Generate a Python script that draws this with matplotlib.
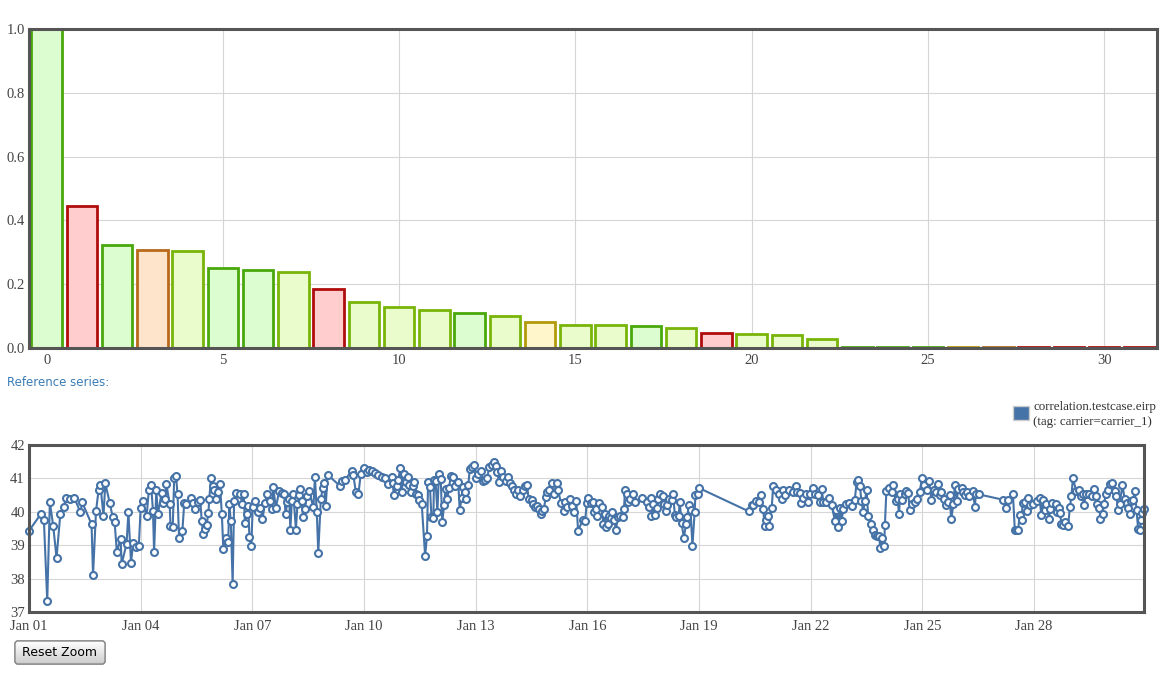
import matplotlib
matplotlib.use("Agg")
import matplotlib.pyplot as plt
import matplotlib.dates as mdates
from matplotlib.patches import FancyBboxPatch, Rectangle
from matplotlib.ticker import FormatStrFormatter
import numpy as np
from datetime import datetime, timedelta

# ---------------- data: autocorrelation bars ----------------
lags = list(range(32))
corr = [1.0, 0.444, 0.324, 0.308, 0.303, 0.252, 0.246, 0.239, 0.185, 0.144,
        0.130, 0.120, 0.110, 0.101, 0.083, 0.072, 0.071, 0.068, 0.063, 0.047,
        0.045, 0.042, 0.028, 0.003, 0.003, 0.003, 0.003, 0.003, 0.003, 0.003,
        0.003, 0.003]
levels = ['good', 'bad', 'good', 'poor', 'fair', 'good', 'good', 'fair', 'bad', 'fair',
          'fair', 'fair', 'good', 'fair', 'warn', 'fair', 'fair', 'good', 'fair', 'bad',
          'fair', 'fair', 'fair', 'good', 'good', 'good', 'warn', 'poor', 'bad', 'bad',
          'bad', 'bad']
bar_ticks = [0, 5, 10, 15, 20, 25, 30]
corr_ticks = [0.0, 0.2, 0.4, 0.6, 0.8, 1.0]

# ---------------- data: reference series (days after Jan 01, value) ----------------
seg_a = [(0.00, 39.43), (0.31, 39.92), (0.40, 39.75), (0.49, 37.33), (0.56, 40.29), (0.65, 39.58),
         (0.74, 38.62), (0.84, 39.92), (0.93, 40.14), (1.00, 40.42), (1.11, 40.37), (1.22, 40.42),
         (1.38, 39.98), (1.43, 40.28), (1.68, 39.63), (1.72, 38.10), (1.80, 40.02), (1.87, 40.66),
         (1.92, 40.80), (2.00, 39.86), (2.05, 40.85), (2.17, 40.26), (2.25, 39.83), (2.30, 39.68),
         (2.36, 38.80), (2.46, 39.20), (2.49, 38.44), (2.62, 39.04), (2.67, 39.98), (2.74, 38.48),
         (2.80, 39.08), (2.87, 38.94), (2.95, 38.99), (3.00, 40.12), (3.06, 40.32), (3.16, 39.87),
         (3.22, 40.66), (3.28, 40.81), (3.33, 40.02), (3.36, 38.80), (3.42, 40.66), (3.46, 39.92),
         (3.56, 40.55), (3.61, 40.27), (3.65, 40.37), (3.69, 40.83), (3.78, 40.22), (3.80, 39.58),
         (3.86, 39.53), (3.90, 41.01), (3.95, 41.06), (3.99, 40.52), (4.03, 39.23), (4.12, 39.43),
         (4.17, 40.27), (4.22, 40.22), (4.35, 40.42), (4.40, 40.27), (4.46, 40.07)]
seg_b = [(4.54, 40.29), (4.60, 40.34), (4.64, 39.73), (4.68, 39.33), (4.73, 39.48), (4.77, 39.60),
         (4.82, 39.97), (4.84, 40.37), (4.89, 41.00), (4.93, 40.78), (4.98, 40.64), (5.01, 40.37),
         (5.07, 40.59), (5.13, 40.83), (5.18, 39.92), (5.22, 38.89), (5.29, 39.23), (5.35, 39.10),
         (5.38, 40.22), (5.42, 39.73), (5.47, 37.85), (5.51, 40.32), (5.56, 40.56), (5.67, 40.52),
         (5.73, 40.24), (5.77, 40.52), (5.80, 39.67), (5.85, 39.92), (5.89, 40.17), (5.92, 39.25),
         (5.97, 38.99), (6.01, 40.14), (6.07, 40.32), (6.16, 39.99), (6.20, 40.12), (6.27, 39.77),
         (6.34, 40.27), (6.40, 40.54), (6.47, 40.32), (6.52, 40.07), (6.56, 40.74), (6.63, 40.12),
         (6.72, 40.62), (6.79, 40.57), (6.86, 40.52), (6.89, 39.92), (6.94, 40.29), (6.99, 40.37),
         (7.02, 39.47), (7.06, 40.32), (7.10, 40.52), (7.17, 39.47), (7.21, 40.22), (7.25, 40.49),
         (7.28, 40.69), (7.32, 40.32), (7.37, 39.83), (7.41, 40.07), (7.46, 40.46), (7.52, 40.62),
         (7.64, 40.14), (7.68, 41.05), (7.73, 39.99), (7.77, 38.78), (7.84, 40.39), (7.89, 40.72),
         (7.92, 40.86), (7.97, 40.16), (8.02, 41.11), (8.35, 40.78), (8.40, 40.91), (8.49, 40.96),
         (8.67, 41.23), (8.71, 41.11), (8.78, 40.59), (8.85, 40.54), (8.91, 41.13), (9.00, 41.31),
         (9.07, 41.18), (9.13, 41.25), (9.22, 41.21), (9.29, 41.16), (9.38, 41.11), (9.47, 41.03)]
seg_c = [(9.56, 41.00), (9.65, 40.83), (9.74, 41.03), (9.77, 40.85), (9.80, 40.49), (9.88, 40.78),
         (9.92, 40.95), (9.97, 41.31), (10.01, 40.59), (10.06, 41.13), (10.13, 40.88), (10.19, 41.03),
         (10.22, 40.81), (10.25, 40.59), (10.32, 40.78), (10.35, 40.88), (10.40, 40.54), (10.44, 40.49),
         (10.48, 40.34), (10.55, 40.22), (10.64, 38.68), (10.69, 39.27), (10.72, 40.88), (10.77, 40.75),
         (10.81, 39.83), (10.86, 39.80), (10.88, 40.95), (10.92, 40.93), (10.97, 39.99), (11.01, 41.13),
         (11.06, 40.98), (11.10, 39.70), (11.15, 40.19), (11.19, 40.69), (11.24, 40.39), (11.28, 40.72),
         (11.33, 41.06), (11.39, 41.05), (11.44, 40.78), (11.53, 40.88), (11.57, 40.04), (11.62, 40.42),
         (11.66, 40.74), (11.71, 40.59), (11.75, 40.39), (11.80, 40.81), (11.84, 41.28), (11.91, 41.35),
         (11.95, 41.40), (12.00, 41.00), (12.07, 41.13), (12.13, 41.23), (12.19, 40.93), (12.25, 40.95),
         (12.31, 41.01), (12.36, 41.35), (12.43, 41.41), (12.49, 41.48), (12.54, 41.38), (12.58, 41.18),
         (12.63, 40.88), (12.67, 41.23), (12.73, 41.03), (12.80, 40.93), (12.87, 41.03), (12.92, 40.86),
         (12.98, 40.78), (13.02, 40.64), (13.07, 40.54), (13.14, 40.66), (13.20, 40.47), (13.26, 40.66),
         (13.33, 40.78), (13.38, 40.81), (13.42, 40.37), (13.50, 40.34), (13.54, 40.22), (13.59, 40.14),
         (13.65, 40.16), (13.69, 40.09), (13.74, 39.92), (13.78, 40.02), (13.83, 40.07), (13.88, 40.44),
         (13.92, 40.59), (13.98, 40.64), (14.04, 40.85), (14.10, 40.52), (14.17, 40.85), (14.21, 40.66),
         (14.29, 40.26), (14.36, 40.02), (14.40, 40.29), (14.46, 40.14), (14.52, 40.39), (14.59, 40.16),
         (14.65, 39.99), (14.70, 40.32), (14.75, 39.43)]
seg_d = [(14.87, 39.75), (14.94, 39.73), (14.98, 40.26), (15.02, 40.42), (15.09, 40.26), (15.14, 40.29),
         (15.18, 39.99), (15.23, 40.09), (15.26, 39.87), (15.32, 40.26), (15.38, 40.14), (15.43, 39.63),
         (15.47, 39.92), (15.51, 39.55), (15.56, 39.62), (15.59, 39.87), (15.62, 39.80), (15.67, 39.99),
         (15.71, 39.75), (15.77, 39.47), (15.81, 39.83), (15.87, 39.87), (15.95, 39.85), (15.98, 40.07),
         (16.01, 40.64), (16.05, 40.52), (16.10, 40.29), (16.14, 40.39), (16.23, 40.52), (16.29, 40.29),
         (16.46, 40.42), (16.61, 40.29), (16.66, 40.14), (16.70, 40.42), (16.72, 39.87), (16.77, 40.24),
         (16.81, 39.90), (16.86, 40.12), (16.90, 40.39), (16.95, 40.52), (17.02, 40.46), (17.05, 40.24),
         (17.11, 40.01), (17.15, 40.19), (17.20, 40.39), (17.26, 40.34), (17.30, 40.52), (17.35, 39.90),
         (17.39, 39.85), (17.45, 39.87), (17.48, 40.29), (17.53, 39.65), (17.59, 39.23), (17.65, 39.63),
         (17.68, 39.83), (17.72, 40.19), (17.77, 40.04), (17.82, 38.98), (17.88, 39.99), (17.90, 40.49),
         (17.96, 40.52), (18.00, 40.71)]
seg_e = [(19.34, 40.01), (19.41, 40.19), (19.46, 40.19), (19.53, 40.32), (19.61, 40.29), (19.66, 40.49),
         (19.72, 40.09), (19.76, 39.57), (19.80, 39.75), (19.84, 39.87), (19.89, 39.58), (19.95, 40.12),
         (19.99, 40.78), (20.06, 40.64), (20.15, 40.52), (20.22, 40.37), (20.26, 40.66), (20.31, 40.49),
         (20.42, 40.66), (20.53, 40.59), (20.60, 40.76), (20.64, 40.59), (20.71, 40.56), (20.75, 40.26),
         (20.80, 40.42), (20.87, 40.52), (20.93, 40.29), (20.98, 40.54), (21.05, 40.72), (21.11, 40.54),
         (21.20, 40.49), (21.25, 40.29), (21.29, 40.69), (21.34, 40.29), (21.41, 40.29), (21.50, 40.42),
         (21.56, 40.19), (21.65, 39.73), (21.69, 40.04), (21.74, 39.55), (21.78, 40.12), (21.83, 39.73),
         (21.87, 40.09), (21.94, 40.22), (22.03, 40.26), (22.12, 40.16), (22.18, 40.34), (22.23, 40.88),
         (22.27, 40.95), (22.32, 40.76), (22.36, 40.32), (22.41, 39.99), (22.45, 40.32), (22.50, 40.64),
         (22.54, 39.87), (22.61, 39.63), (22.67, 39.47), (22.72, 39.30), (22.78, 39.27), (22.83, 39.27),
         (22.87, 38.91), (22.92, 39.23), (22.97, 38.98), (22.99, 39.60), (23.03, 40.62), (23.10, 40.72),
         (23.17, 40.59), (23.21, 40.81), (23.28, 40.32), (23.33, 40.39), (23.37, 39.94), (23.40, 40.52),
         (23.46, 40.34), (23.52, 40.52), (23.56, 40.62), (23.61, 40.56), (23.67, 40.04), (23.72, 40.22),
         (23.79, 40.29), (23.85, 40.39), (23.92, 40.59), (23.99, 41.01), (24.05, 40.81), (24.11, 40.64),
         (24.18, 40.91), (24.24, 40.36), (24.31, 40.66), (24.37, 40.59), (24.42, 40.83), (24.46, 40.49),
         (24.51, 40.59), (24.57, 40.39), (24.62, 40.19), (24.68, 40.29), (24.73, 40.49), (24.77, 39.77)]
seg_f = [(24.83, 40.22), (24.87, 40.81), (24.92, 40.32), (24.96, 40.69), (25.05, 40.72), (25.10, 40.59),
         (25.14, 40.49), (25.20, 40.59), (25.26, 40.46), (25.35, 40.62), (25.41, 40.14), (25.43, 40.54),
         (25.52, 40.52), (26.17, 40.36), (26.24, 40.12), (26.30, 40.34), (26.43, 40.52), (26.48, 39.45),
         (26.53, 39.45), (26.57, 39.47), (26.61, 39.90), (26.66, 39.75), (26.69, 40.26), (26.75, 40.29),
         (26.80, 40.02), (26.84, 40.42), (26.88, 40.19), (26.97, 40.24), (27.08, 40.32), (27.15, 40.40),
         (27.19, 39.90), (27.24, 40.34), (27.28, 40.04), (27.33, 40.24), (27.40, 39.77), (27.43, 40.09),
         (27.49, 40.26), (27.58, 40.22), (27.61, 39.99), (27.67, 40.12), (27.70, 39.96), (27.73, 39.63),
         (27.78, 39.60), (27.82, 39.70), (27.91, 39.57), (27.96, 40.14), (28.00, 40.46), (28.04, 41.01),
         (28.13, 40.62), (28.20, 40.64), (28.27, 40.46), (28.31, 40.54), (28.33, 40.19), (28.40, 40.54),
         (28.47, 40.52), (28.54, 40.46), (28.60, 40.69), (28.65, 40.46), (28.69, 40.24), (28.75, 40.12),
         (28.78, 39.77), (28.84, 39.92), (28.87, 40.24), (28.93, 40.52), (28.99, 40.66), (29.03, 40.83),
         (29.10, 40.85), (29.17, 40.62), (29.21, 40.46), (29.26, 40.06), (29.30, 40.24), (29.37, 40.81),
         (29.43, 40.39), (29.48, 40.26), (29.52, 40.12), (29.57, 39.94), (29.61, 40.32), (29.66, 40.34),
         (29.70, 40.62), (29.75, 40.06), (29.79, 39.50), (29.84, 39.47), (29.87, 39.75), (29.90, 39.96),
         (29.95, 40.07)]
series_name = "correlation.testcase.eirp"
series_tag = "(tag: carrier=carrier_1)"
value_ticks = [37, 38, 39, 40, 41, 42]

# ---------------- styling ----------------
W, H = 1165, 673
level_fill = {'good': '#dcfdd0', 'fair': '#ebfccc', 'warn': '#fff6cc',
              'poor': '#ffe4cc', 'bad': '#ffcdcd'}
level_edge = {'good': '#4aa80c', 'fair': '#78b508', 'warn': '#b39a0a',
              'poor': '#b8691a', 'bad': '#b00c0c'}
tick_font = ['Liberation Serif', 'DejaVu Serif']
tick_color = '#444444'
grid_color = '#d6d6d6'
frame_color = '#555555'
line_color = '#4572a7'

fig = plt.figure(figsize=(W / 100, H / 100), dpi=100)
fig.patch.set_facecolor('white')

# ---------------- top: bars ----------------
ax1 = fig.add_axes([29 / W, 1 - 348 / H, (1157 - 29) / W, (348 - 29) / H])
ax1.set_axisbelow(True)
ax1.bar(lags, corr, width=0.86,
        color=[level_fill[l] for l in levels],
        edgecolor=[level_edge[l] for l in levels],
        linewidth=2.0, zorder=2)
ax1.set_xlim(-0.5, 31.5)
ax1.set_ylim(0, 1.0)
ax1.set_xticks(bar_ticks)
ax1.set_yticks(corr_ticks)
ax1.yaxis.set_major_formatter(FormatStrFormatter('%.1f'))
ax1.grid(True, color=grid_color, linewidth=0.8)
ax1.tick_params(length=0, labelsize=10.5, colors=tick_color)
ax1.tick_params(axis='y', pad=3)
ax1.tick_params(axis='x', pad=4)
for lab in ax1.get_xticklabels() + ax1.get_yticklabels():
    lab.set_family(tick_font)
for sp in ax1.spines.values():
    sp.set_color(frame_color)
    sp.set_linewidth(2.2)
    sp.set_zorder(4)

# ---------------- bottom: time series ----------------
base = datetime(2014, 1, 1)
points = seg_a + seg_b + seg_c + seg_d + seg_e + seg_f
times = [base + timedelta(days=d) for d, _ in points]
vals = [v for _, v in points]

ax2 = fig.add_axes([29 / W, 1 - 612 / H, (1144 - 29) / W, (612 - 445) / H])
ax2.set_axisbelow(True)
ax2.plot(times, vals, color=line_color, linewidth=1.5, marker='o',
         markersize=5.0, markerfacecolor='white', markeredgecolor=line_color,
         markeredgewidth=1.5, zorder=3, clip_on=False)
ax2.set_xlim(times[0], times[-1])
ax2.set_ylim(value_ticks[0], value_ticks[-1])
ax2.set_yticks(value_ticks)
ax2.xaxis.set_major_locator(mdates.DayLocator(bymonthday=range(1, 32, 3)))
ax2.xaxis.set_major_formatter(mdates.DateFormatter('%b %d'))
ax2.grid(True, color=grid_color, linewidth=0.8)
ax2.tick_params(length=0, labelsize=10.5, colors=tick_color)
ax2.tick_params(axis='y', pad=3)
ax2.tick_params(axis='x', pad=6)
for lab in ax2.get_xticklabels() + ax2.get_yticklabels():
    lab.set_family(tick_font)
for sp in ax2.spines.values():
    sp.set_color(frame_color)
    sp.set_linewidth(2.2)
    sp.set_zorder(4)

# ---------------- overlay: labels, legend, button ----------------
ov = fig.add_axes([0, 0, 1, 1], zorder=-1)
ov.set_axis_off()
ov.patch.set_visible(False)

ov.text(7, 382, "Reference series:", color='#3a7bb5', fontsize=8.5,
        family='DejaVu Sans', va='center', ha='left')

ov.add_patch(Rectangle((1013, 406), 16, 14, facecolor=line_color,
                       edgecolor='#cccccc', linewidth=1))
ov.text(1033, 407, series_name, fontsize=9.4, family=tick_font, color='#333333',
        va='center', ha='left')
ov.text(1033, 422, series_tag, fontsize=9.4, family=tick_font, color='#333333',
        va='center', ha='left')

btn = FancyBboxPatch((15, 641), 90, 23, boxstyle='round,pad=0,rounding_size=3',
                     facecolor='#e4e4e4', edgecolor='#8a8a8a', linewidth=1)
ov.add_patch(btn)
grad = np.linspace(1.0, 0.80, 50).reshape(-1, 1)
im = ov.imshow(grad, extent=(15, 105, 664, 641), cmap='gray', vmin=0, vmax=1,
               aspect='auto', origin='upper', zorder=1)
im.set_clip_path(btn)
ov.add_patch(FancyBboxPatch((15, 641), 90, 23, boxstyle='round,pad=0,rounding_size=3',
                            facecolor='none', edgecolor='#8a8a8a', linewidth=1, zorder=2))
ov.text(60, 652.5, "Reset Zoom", fontsize=9, family='DejaVu Sans', color='black',
        va='center', ha='center', zorder=3)
ov.set_xlim(0, W)
ov.set_ylim(H, 0)

fig.savefig("out.png", dpi=100, facecolor='white')
